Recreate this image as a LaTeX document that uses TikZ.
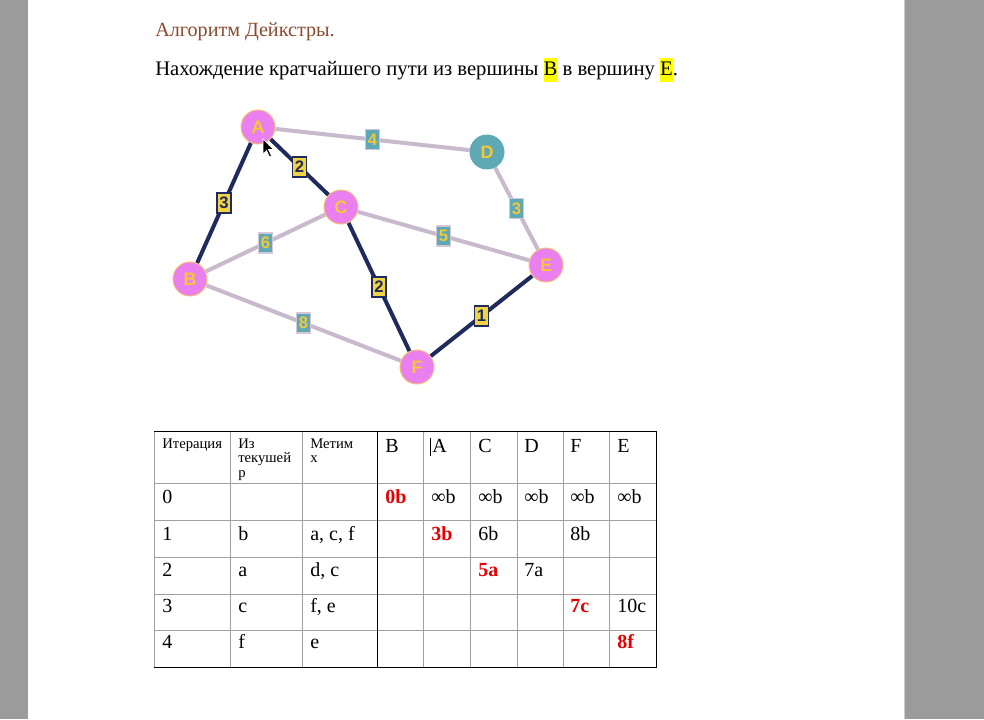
\documentclass[tikz,border=0pt]{standalone}
\usepackage{fontspec}
\setmainfont{Liberation Serif}
\newfontfamily\arialfont{Liberation Sans}
\usetikzlibrary{backgrounds}
\definecolor{pagegray}{HTML}{9B9B9B}
\definecolor{titlebrown}{HTML}{8B4A2E}
\definecolor{hlyellow}{HTML}{FFFF00}
\definecolor{navy}{HTML}{1E2B5C}
\definecolor{lightedge}{HTML}{C9B9CC}
\definecolor{violetnode}{HTML}{EA7FF0}
\definecolor{tealnode}{HTML}{5FA9B5}
\definecolor{nodetext}{HTML}{F3C838}
\definecolor{nodeborder}{HTML}{F5C070}
\definecolor{lblyellow}{HTML}{F0D444}
\definecolor{lblteal}{HTML}{5FA8B6}
\definecolor{lblborder}{HTML}{D4C8D8}
\definecolor{cellred}{HTML}{E60000}
\definecolor{gridgray}{HTML}{A0A0A0}
\newcommand\hilite[1]{{\setlength{\fboxsep}{0pt}\colorbox{hlyellow}{\strut #1}}}
\tikzset{
  vtx/.style={circle, minimum size=25.5pt, inner sep=0pt, fill=violetnode, draw=nodeborder, line width=0.7pt,
    text=nodetext, font=\arialfont\bfseries\fontsize{13.5}{15}\selectfont},
  vtxd/.style={vtx, fill=tealnode, draw=tealnode},
  darkedge/.style={draw=navy, line width=3pt},
  lightedge/.style={draw=lightedge, line width=3pt},
  dlbl/.style={rectangle, fill=lblyellow, draw=navy, line width=1.1pt, inner sep=0pt,
    minimum width=10.5pt, minimum height=15pt, text=navy, font=\arialfont\bfseries\fontsize{12.5}{13}\selectfont},
  llbl/.style={rectangle, fill=lblteal, draw=lblborder, line width=1.1pt, inner sep=0pt,
    minimum width=10.5pt, minimum height=15pt, text=nodetext, font=\arialfont\bfseries\fontsize{12.5}{13}\selectfont},
  cell/.style={anchor=base west, inner sep=0pt, font=\fontsize{15}{18}\selectfont},
  redcell/.style={cell, text=cellred, font=\bfseries\fontsize{15}{18}\selectfont},
  hcell/.style={anchor=base west, inner sep=0pt, font=\fontsize{11}{12}\selectfont},
  txt/.style={anchor=base west, inner sep=0pt, font=\fontsize{15.1}{18}\selectfont},
  txtb/.style={anchor=base west, inner sep=0pt, font=\fontsize{15.5}{18}\selectfont},
  grid/.style={draw=gridgray, line width=0.75pt},
  gridd/.style={draw=black, line width=0.75pt}
}
\begin{document}
\begin{tikzpicture}[x=0.75pt,y=-0.75pt]
\useasboundingbox (0,0) rectangle (984,719);

% headings
\node[txt, text=titlebrown] (title) at (155,36) {Алгоритм Дейкстры.};
\node[txtb] (task) at (155,75) {Нахождение кратчайшего пути из вершины \hilite{B} в вершину \hilite{E}.};

% graph vertices
\node[vtx] (A) at (258,127) {A};
\node[vtxd] (D) at (487,152) {D};
\node[vtx] (C) at (341,207) {C};
\node[vtx] (B) at (190,279) {B};
\node[vtx] (E) at (546,265) {E};
\node[vtx] (F) at (417,367) {F};

\begin{scope}[on background layer]
\fill[white] (0,0) rectangle (984,719);
\fill[pagegray] (0,0) rectangle (28,719);
\fill[pagegray] (905,0) rectangle (984,719);
\draw[draw=gray!40, line width=0.75pt] (904.5,0) -- (904.5,719);
\draw[lightedge] (A) -- node[llbl] (w4) {4} (D);
\draw[lightedge] (D) -- node[llbl] (w3b) {3} (E);
\draw[lightedge] (B) -- node[llbl] (w6) {6} (C);
\draw[lightedge] (C) -- node[llbl] (w5) {5} (E);
\draw[lightedge] (B) -- node[llbl] (w8) {8} (F);
\draw[darkedge] (A) -- node[dlbl] (w3a) {3} (B);
\draw[darkedge] (A) -- node[dlbl] (w2a) {2} (C);
\draw[darkedge] (C) -- node[dlbl] (w2b) {2} (F);
\draw[darkedge] (F) -- node[dlbl] (w1) {1} (E);
\end{scope}

% mouse pointer
\filldraw[fill=black, draw=white, line width=0.5pt]
  (263,139) -- (263,154) -- (266.5,150.5) -- (269.5,157) -- (271.5,156) -- (268.5,149.5) -- (273.5,149.5) -- cycle;

% table grid
\foreach \xx in {230,302,423,470,517,563,609} \draw[grid] (\xx,431) -- (\xx,667);
\foreach \yy in {483,520,557,594,630} \draw[grid] (154,\yy) -- (656,\yy);
\draw[gridd] (377,431) -- (377,667);
\draw[grid] (154,431) -- (154,667);
\draw[gridd] (154,431) -- (656,431) -- (656,667) -- (154,667);
% text cursor
\draw[black, line width=0.6pt] (430.5,438) -- (430.5,456);

% header row
\node[hcell] (h1) at (162,448) {Итерация};
\node[hcell] (h2a) at (238,448) {Из};
\node[hcell] (h2b) at (238,462.5) {текушей};
\node[hcell] (h2c) at (238,477) {р};
\node[hcell] (h3a) at (310,448) {Метим};
\node[hcell] (h3b) at (310,462.5) {х};
\node[cell] (hB) at (385,452) {B};
\node[cell] (hA) at (432,452) {A};
\node[cell] (hC) at (478,452) {C};
\node[cell] (hD) at (524,452) {D};
\node[cell] (hF) at (570,452) {F};
\node[cell] (hE) at (617,452) {E};

% row 0
\node[cell] (r0i) at (162,503) {0};
\node[redcell] (r0B) at (385,503) {0b};
\node[cell] (r0A) at (431,503) {∞b};
\node[cell] (r0C) at (478,503) {∞b};
\node[cell] (r0D) at (524,503) {∞b};
\node[cell] (r0F) at (570,503) {∞b};
\node[cell] (r0E) at (617,503) {∞b};
% row 1
\node[cell] (r1i) at (162,540) {1};
\node[cell] (r1f) at (238,540) {b};
\node[cell] (r1m) at (310,540) {a, c, f};
\node[redcell] (r1A) at (431,540) {3b};
\node[cell] (r1C) at (478,540) {6b};
\node[cell] (r1F) at (570,540) {8b};
% row 2
\node[cell] (r2i) at (162,576) {2};
\node[cell] (r2f) at (238,576) {a};
\node[cell] (r2m) at (310,576) {d, c};
\node[redcell] (r2C) at (478,576) {5a};
\node[cell] (r2D) at (524,576) {7a};
% row 3
\node[cell] (r3i) at (162,612) {3};
\node[cell] (r3f) at (238,612) {c};
\node[cell] (r3m) at (310,612) {f, e};
\node[redcell] (r3F) at (570,612) {7c};
\node[cell] (r3E) at (617,612) {10c};
% row 4
\node[cell] (r4i) at (162,648) {4};
\node[cell] (r4f) at (238,648) {f};
\node[cell] (r4m) at (310,648) {e};
\node[redcell] (r4E) at (617,648) {8f};
\end{tikzpicture}
\end{document}
